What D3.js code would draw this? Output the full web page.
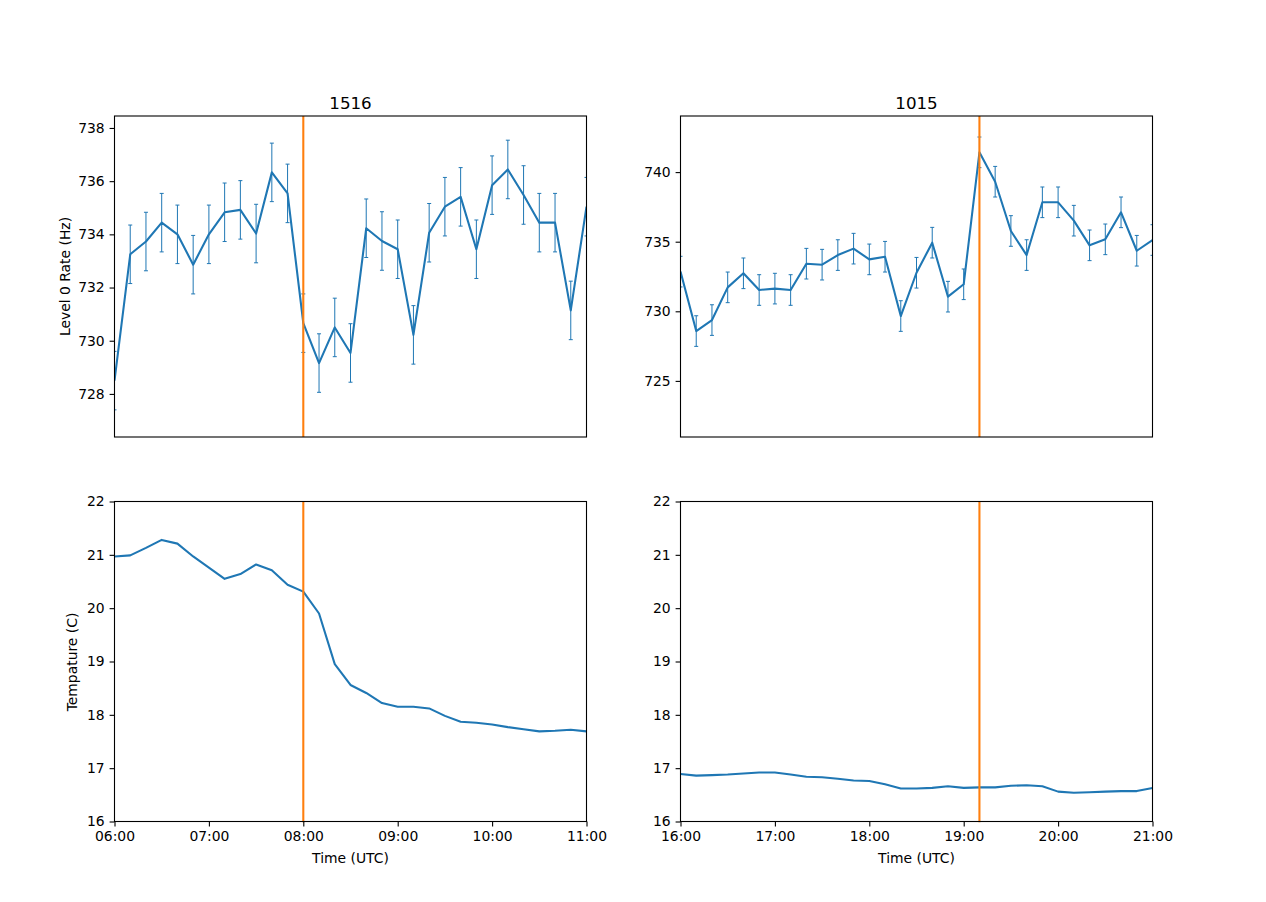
<!DOCTYPE html>
<html>
<head>
<meta charset="utf-8">
<script src="https://cdn.jsdelivr.net/npm/d3@7"></script>
<style>
  body { margin: 0; background: #fff; }
  svg { display: block; font-family: "DejaVu Sans", sans-serif; }
</style>
</head>
<body>
<div id="wrapper"></div>
<script>
// sample times (10 min bins) for each run
const timesA = ["06:00","06:10","06:20","06:30","06:40","06:50","07:00","07:10","07:20","07:30","07:40","07:50",
  "08:00","08:10","08:20","08:30","08:40","08:50","09:00","09:10","09:20","09:30","09:40","09:50",
  "10:00","10:10","10:20","10:30","10:40","10:50","11:00"];
const timesB = ["16:00","16:10","16:20","16:30","16:40","16:50","17:00","17:10","17:20","17:30","17:40","17:50",
  "18:00","18:10","18:20","18:30","18:40","18:50","19:00","19:10","19:20","19:30","19:40","19:50",
  "20:00","20:10","20:20","20:30","20:40","20:50","21:00"];

// level 0 rate (Hz) and its error
const rateA = [728.5, 733.25, 733.73, 734.44, 734.0, 732.86, 734.0, 734.83, 734.92, 734.03, 736.33, 735.54,
  730.66, 729.16, 730.5, 729.54, 734.23, 733.75, 733.44, 730.22, 734.06, 735.04, 735.41, 733.44,
  735.85, 736.44, 735.48, 734.44, 734.44, 731.14, 735.04];
const rateB = [732.85, 728.58, 729.37, 731.72, 732.73, 731.53, 731.63, 731.53, 733.42, 733.35, 734.04, 734.5,
  733.73, 733.92, 729.66, 732.77, 734.93, 731.05, 731.94, 741.42, 739.31, 735.77, 734.04, 737.83,
  737.83, 736.51, 734.74, 735.17, 737.11, 734.35, 735.12];
const errA = [1.1, 1.1, 1.1, 1.1, 1.1, 1.1, 1.1, 1.1, 1.1, 1.1, 1.1, 1.1, 1.1, 1.1, 1.1, 1.1,
  1.1, 1.1, 1.1, 1.1, 1.1, 1.1, 1.1, 1.1, 1.1, 1.1, 1.1, 1.1, 1.1, 1.1, 1.1];
const errB = [1.1, 1.1, 1.1, 1.1, 1.1, 1.1, 1.1, 1.1, 1.1, 1.1, 1.1, 1.1, 1.1, 1.1, 1.1, 1.1,
  1.1, 1.1, 1.1, 1.1, 1.1, 1.1, 1.1, 1.1, 1.1, 1.1, 1.1, 1.1, 1.1, 1.1, 1.1];

// temperature (C)
const tempA = [20.97, 20.99, 21.13, 21.28, 21.21, 20.97, 20.76, 20.55, 20.64, 20.82, 20.71, 20.44,
  20.31, 19.9, 18.95, 18.56, 18.41, 18.22, 18.15, 18.15, 18.12, 17.98, 17.87, 17.85,
  17.82, 17.77, 17.73, 17.69, 17.7, 17.72, 17.69];
const tempB = [16.89, 16.86, 16.87, 16.88, 16.9, 16.92, 16.92, 16.88, 16.84, 16.83, 16.8, 16.77,
  16.76, 16.7, 16.62, 16.62, 16.63, 16.66, 16.63, 16.64, 16.64, 16.67, 16.68, 16.66,
  16.56, 16.54, 16.55, 16.56, 16.57, 16.57, 16.63];

const titles = ["1516", "1015"];
const eventTimes = ["08:00", "19:10"];
const rateLims = [[726.38, 738.45], [720.97, 744.03]];
const rateTicks = [[728, 730, 732, 734, 736, 738], [725, 730, 735, 740]];
const tempLim = [16, 22];
const tempTicks = [16, 17, 18, 19, 20, 21, 22];
const hourTicksA = ["06:00", "07:00", "08:00", "09:00", "10:00", "11:00"];
const hourTicksB = ["16:00", "17:00", "18:00", "19:00", "20:00", "21:00"];

const width = 1266, height = 902;
const blue = "#1f77b4", orange = "#ff7f0e";
const tickFont = 13.9;
const parseT = s => new Date("2000-01-01T" + s + ":00Z");

const panels = [
  {times: timesA, rate: rateA, err: errA, temp: tempA, hours: hourTicksA},
  {times: timesB, rate: rateB, err: errB, temp: tempB, hours: hourTicksB}
];

const colLeft = [114.5, 680.5];
const axW = 472;
const rowTop = [116, 501.5];
const axH = 321;

let svg = d3.select("#wrapper").append("svg")
  .attr("width", width)
  .attr("height", height);

function frame(g, clipId) {
  g.append("clipPath").attr("id", clipId)
    .append("rect").attr("width", axW).attr("height", axH);
  return g.append("g").attr("clip-path", `url(#${clipId})`);
}

function yAxis(g, y, ticks) {
  const ax = g.append("g").call(d3.axisLeft(y).tickValues(ticks).tickFormat(d3.format("d"))
    .tickSize(4.9).tickPadding(4.9));
  ax.select(".domain").remove();
  ax.selectAll("line").attr("stroke", "#000").attr("stroke-width", 1.1);
  ax.selectAll("text").attr("font-size", tickFont).attr("fill", "#000")
    .attr("font-family", "DejaVu Sans");
}

function border(g) {
  g.append("rect").attr("width", axW).attr("height", axH)
    .attr("fill", "none").attr("stroke", "#000").attr("stroke-width", 1.1);
}

panels.forEach((p, c) => {
  const dates = p.times.map(parseT);
  const x = d3.scaleUtc()
    .domain([parseT(p.hours[0]), parseT(p.hours[p.hours.length - 1])])
    .range([0, axW]);
  const ev = parseT(eventTimes[c]);

  // ---- rate panel with error bars
  const gTop = svg.append("g").attr("transform", `translate(${colLeft[c]},${rowTop[0]})`);
  const yR = d3.scaleLinear().domain(rateLims[c]).range([axH, 0]);
  const plotTop = frame(gTop, "clipTop" + c);

  const bars = plotTop.append("g").attr("stroke", blue).attr("stroke-width", 1);
  p.rate.forEach((v, i) => {
    const xi = x(dates[i]);
    bars.append("line").attr("x1", xi).attr("x2", xi)
      .attr("y1", yR(v - p.err[i])).attr("y2", yR(v + p.err[i]));
    [v - p.err[i], v + p.err[i]].forEach(e => {
      bars.append("line").attr("x1", xi - 2).attr("x2", xi + 2)
        .attr("y1", yR(e)).attr("y2", yR(e));
    });
  });

  plotTop.append("path")
    .datum(p.rate)
    .attr("fill", "none").attr("stroke", blue).attr("stroke-width", 2.08)
    .attr("stroke-linejoin", "round")
    .attr("d", d3.line().x((d, i) => x(dates[i])).y(d => yR(d)));

  plotTop.append("line")
    .attr("x1", x(ev)).attr("x2", x(ev)).attr("y1", 0).attr("y2", axH)
    .attr("stroke", orange).attr("stroke-width", 2.08);

  yAxis(gTop, yR, rateTicks[c]);
  border(gTop);

  gTop.append("text")
    .attr("x", axW / 2).attr("y", -7.5)
    .attr("text-anchor", "middle")
    .attr("font-size", 16.7)
    .text(titles[c]);

  // ---- temperature panel
  const gBot = svg.append("g").attr("transform", `translate(${colLeft[c]},${rowTop[1]})`);
  const yT = d3.scaleLinear().domain(tempLim).range([axH - 1, 0]);
  const plotBot = frame(gBot, "clipBot" + c);

  plotBot.append("path")
    .datum(p.temp)
    .attr("fill", "none").attr("stroke", blue).attr("stroke-width", 2.08)
    .attr("stroke-linejoin", "round")
    .attr("d", d3.line().x((d, i) => x(dates[i])).y(d => yT(d)));

  plotBot.append("line")
    .attr("x1", x(ev)).attr("x2", x(ev)).attr("y1", 0).attr("y2", axH)
    .attr("stroke", orange).attr("stroke-width", 2.08);

  yAxis(gBot, yT, tempTicks);

  const xAx = gBot.append("g").attr("transform", `translate(0,${axH - 1})`)
    .call(d3.axisBottom(x).tickValues(p.hours.map(parseT))
      .tickFormat(d3.utcFormat("%H:%M")).tickSize(4.9).tickPadding(4.9));
  xAx.select(".domain").remove();
  xAx.selectAll("line").attr("stroke", "#000").attr("stroke-width", 1.1);
  xAx.selectAll("text").attr("font-size", tickFont).attr("fill", "#000")
    .attr("font-family", "DejaVu Sans");

  gBot.append("rect").attr("width", axW).attr("height", axH - 1)
    .attr("fill", "none").attr("stroke", "#000").attr("stroke-width", 1.1);

  gBot.append("text")
    .attr("x", axW / 2).attr("y", axH + 40)
    .attr("text-anchor", "middle")
    .attr("font-size", tickFont)
    .text("Time (UTC)");
});

// y labels only on the left column
svg.append("text")
  .attr("transform", `translate(70,${rowTop[0] + axH / 2}) rotate(-90)`)
  .attr("text-anchor", "middle")
  .attr("font-size", tickFont)
  .text("Level 0 Rate (Hz)");

svg.append("text")
  .attr("transform", `translate(77,${rowTop[1] + axH / 2}) rotate(-90)`)
  .attr("text-anchor", "middle")
  .attr("font-size", tickFont)
  .text("Tempature (C)");
</script>
</body>
</html>
